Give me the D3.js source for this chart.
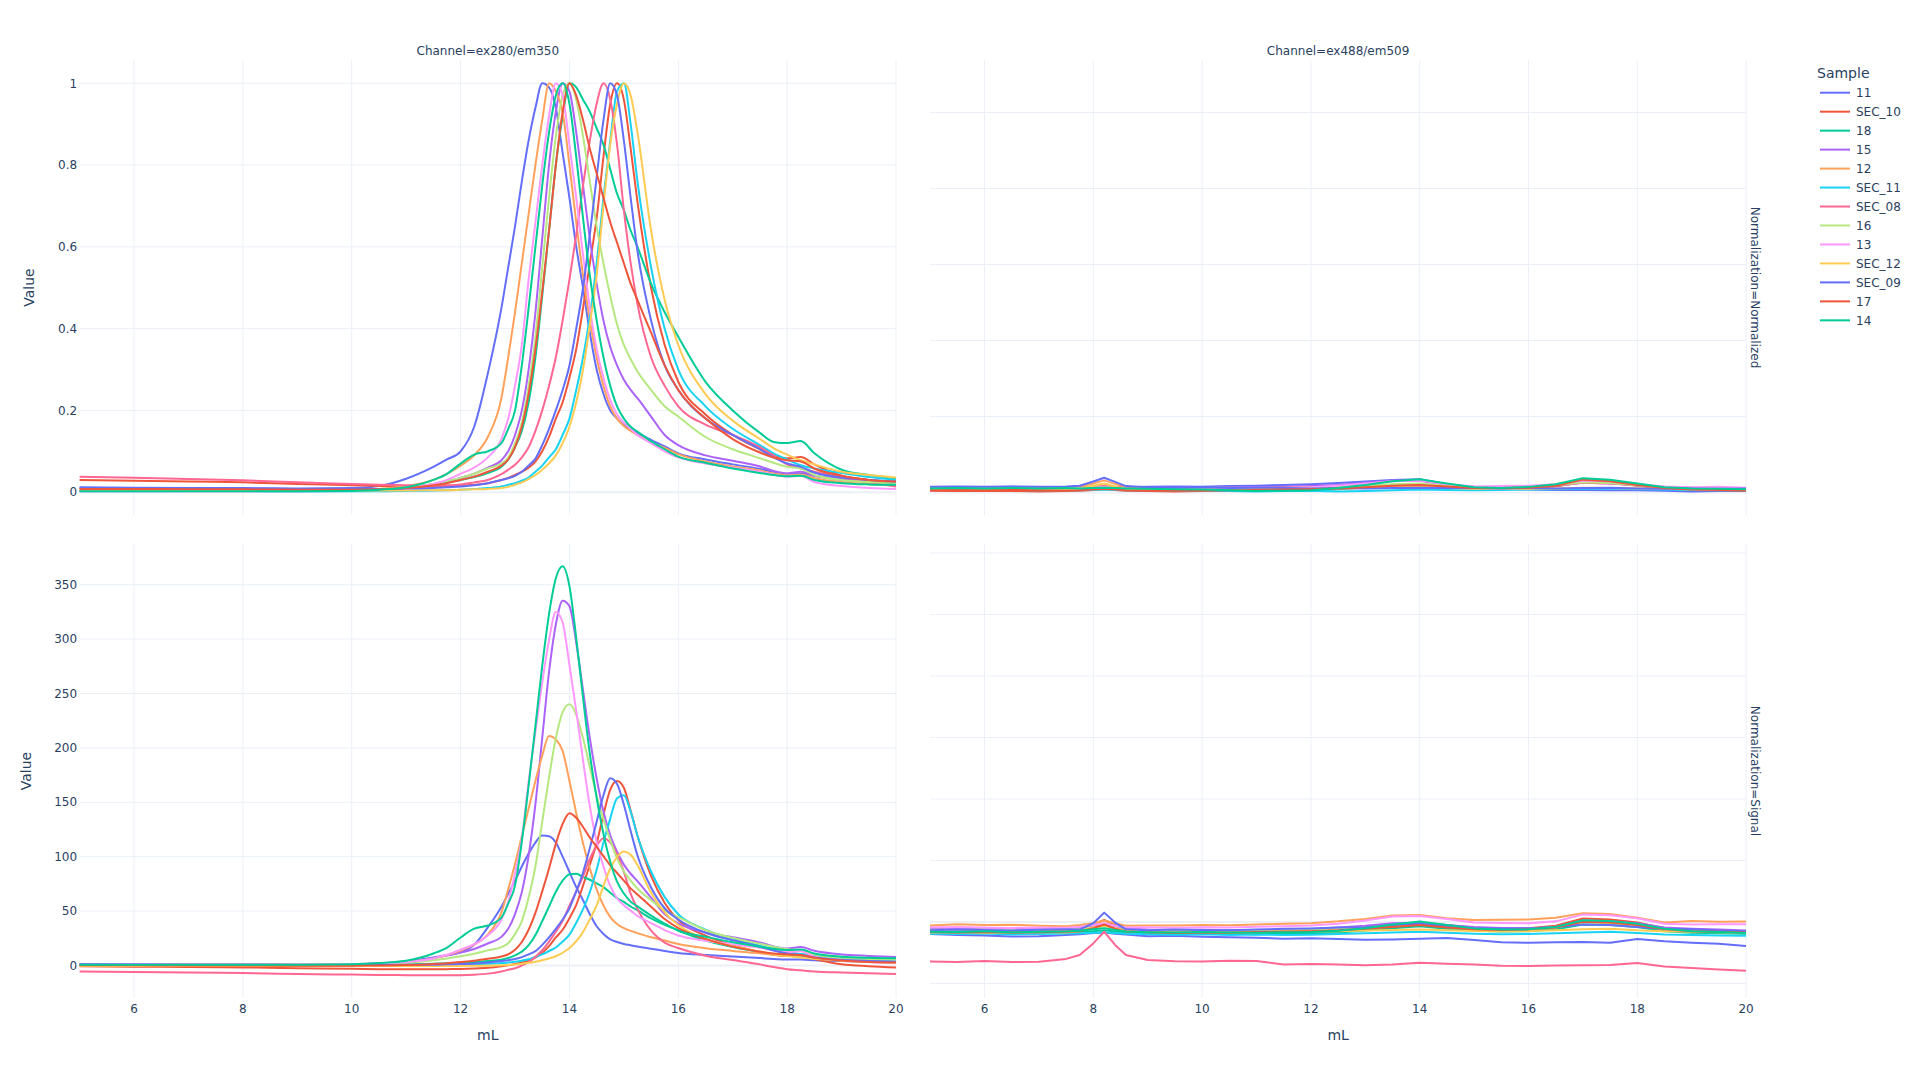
<!DOCTYPE html>
<html><head><meta charset="utf-8">
<script src="https://cdn.jsdelivr.net/npm/d3@7"></script>
<style>body{margin:0;background:#fff;} svg{display:block;font-family:"DejaVu Sans",Verdana,sans-serif;}</style>
</head><body><svg id="chart" width="1920" height="1080"></svg>
<script>
// ---------------- DATA ----------------
const samples = ["11","SEC_10","18","15","12","SEC_11","SEC_08","16","13","SEC_12","SEC_09","17","14"];
const sampleColors = ["#636efa","#EF553B","#00cc96","#ab63fa","#FFA15A","#19d3f3","#FF6692","#B6E880","#FF97FF","#FECB52","#636efa","#EF553B","#00cc96"];
const channels = ["ex280/em350","ex488/em509"];
const normalizations = ["Normalized","Signal"];

// elution volume grid for ex280/em350 traces (mL)
const mL280 = [5,6,7,8,9,10,10.5,11,11.5,11.75,12,12.25,12.5,12.75,12.875,13,13.125,13.25,13.375,13.5,13.625,13.75,13.875,14,14.125,14.25,14.375,14.5,14.625,14.75,14.875,15,15.125,15.25,15.5,15.75,16,16.5,17,17.5,17.75,18,18.25,18.5,19,19.5,20];
// elution volume grid for ex488/em509 traces (mL)
const mL488 = [5,5.5,6,6.5,7,7.5,7.75,8,8.2,8.4,8.6,9,9.5,10,10.5,11,11.5,12,12.5,13,13.5,14,14.5,15,15.5,16,16.5,17,17.5,18,18.5,19,19.5,20];

// ex280/em350, Normalized
const norm280_11     = [0.010,0.010,0.010,0.010,0.009,0.010,0.015,0.033,0.062,0.08,0.10,0.16,0.29,0.45,0.55,0.65,0.76,0.86,0.94,1.0,0.99,0.94,0.83,0.72,0.60,0.50,0.39,0.30,0.24,0.20,0.18,0.165,0.155,0.145,0.128,0.112,0.095,0.08,0.068,0.057,0.05,0.045,0.046,0.04,0.033,0.029,0.026];
const norm280_SEC_10 = [0.03,0.028,0.026,0.024,0.02,0.017,0.015,0.014,0.014,0.015,0.016,0.018,0.022,0.03,0.035,0.042,0.05,0.06,0.075,0.1,0.135,0.18,0.22,0.28,0.35,0.45,0.56,0.67,0.82,0.95,1.0,0.96,0.84,0.71,0.5,0.36,0.27,0.19,0.14,0.105,0.09,0.083,0.086,0.068,0.04,0.03,0.023];
const norm280_18     = [0.004,0.004,0.004,0.004,0.004,0.004,0.006,0.01,0.018,0.024,0.03,0.037,0.047,0.062,0.08,0.11,0.15,0.22,0.33,0.48,0.64,0.80,0.92,1.0,0.99,0.96,0.93,0.89,0.85,0.79,0.73,0.69,0.64,0.60,0.51,0.44,0.38,0.27,0.20,0.145,0.123,0.12,0.125,0.095,0.055,0.042,0.034];
const norm280_15     = [0.002,0.002,0.002,0.002,0.002,0.003,0.005,0.01,0.02,0.027,0.035,0.045,0.06,0.078,0.1,0.14,0.2,0.3,0.44,0.62,0.80,0.93,1.0,0.98,0.88,0.75,0.62,0.51,0.42,0.355,0.31,0.275,0.25,0.23,0.185,0.14,0.115,0.09,0.077,0.063,0.052,0.046,0.05,0.04,0.03,0.026,0.023];
const norm280_12     = [0.005,0.005,0.004,0.004,0.004,0.005,0.008,0.015,0.03,0.045,0.065,0.09,0.135,0.23,0.33,0.44,0.56,0.68,0.80,0.91,1.0,0.98,0.93,0.80,0.66,0.53,0.42,0.33,0.26,0.21,0.18,0.162,0.15,0.14,0.122,0.108,0.093,0.075,0.063,0.053,0.046,0.041,0.043,0.034,0.025,0.02,0.016];
const norm280_SEC_11 = [0.003,0.003,0.003,0.003,0.002,0.002,0.002,0.003,0.004,0.005,0.006,0.008,0.01,0.014,0.018,0.022,0.028,0.036,0.05,0.065,0.085,0.105,0.14,0.18,0.25,0.33,0.43,0.56,0.72,0.86,0.98,1.0,0.9,0.76,0.55,0.40,0.30,0.21,0.155,0.115,0.095,0.08,0.066,0.058,0.047,0.037,0.03];
const norm280_SEC_08 = [0.038,0.035,0.032,0.029,0.024,0.02,0.018,0.017,0.016,0.017,0.019,0.024,0.03,0.044,0.055,0.067,0.085,0.11,0.15,0.2,0.26,0.33,0.42,0.52,0.63,0.75,0.86,0.95,1.0,0.96,0.85,0.69,0.56,0.46,0.33,0.26,0.21,0.165,0.14,0.11,0.09,0.068,0.058,0.05,0.036,0.024,0.014];
const norm280_16     = [0.003,0.003,0.003,0.003,0.003,0.004,0.006,0.01,0.02,0.027,0.035,0.045,0.058,0.07,0.085,0.12,0.17,0.26,0.38,0.55,0.72,0.87,0.97,1.0,0.96,0.87,0.76,0.65,0.56,0.48,0.41,0.36,0.325,0.295,0.25,0.21,0.185,0.135,0.105,0.083,0.072,0.062,0.058,0.042,0.03,0.025,0.022];
const norm280_13     = [0.004,0.004,0.003,0.003,0.003,0.004,0.006,0.01,0.02,0.03,0.045,0.06,0.085,0.13,0.18,0.26,0.36,0.52,0.66,0.80,0.92,1.0,0.97,0.85,0.72,0.58,0.45,0.35,0.28,0.225,0.19,0.17,0.155,0.14,0.12,0.10,0.085,0.07,0.06,0.05,0.043,0.038,0.04,0.025,0.015,0.01,0.008];
const norm280_SEC_12 = [0.006,0.005,0.005,0.004,0.004,0.004,0.004,0.004,0.005,0.005,0.006,0.007,0.008,0.01,0.013,0.018,0.024,0.032,0.042,0.055,0.07,0.09,0.12,0.16,0.22,0.30,0.41,0.53,0.7,0.85,0.95,1.0,0.97,0.88,0.64,0.47,0.36,0.24,0.175,0.13,0.108,0.092,0.078,0.068,0.05,0.042,0.036];
const norm280_SEC_09 = [0.012,0.011,0.01,0.009,0.008,0.008,0.008,0.009,0.01,0.012,0.014,0.017,0.022,0.03,0.034,0.04,0.05,0.065,0.082,0.115,0.155,0.2,0.25,0.31,0.40,0.50,0.63,0.77,0.91,1.0,0.97,0.86,0.72,0.59,0.42,0.31,0.25,0.18,0.14,0.105,0.085,0.07,0.062,0.048,0.036,0.03,0.026];
const norm280_17     = [0.008,0.008,0.007,0.007,0.006,0.006,0.007,0.01,0.017,0.022,0.03,0.038,0.05,0.065,0.08,0.11,0.16,0.24,0.35,0.49,0.64,0.8,0.93,1.0,0.97,0.91,0.84,0.78,0.72,0.66,0.61,0.56,0.51,0.47,0.39,0.31,0.25,0.18,0.13,0.097,0.085,0.078,0.075,0.058,0.04,0.03,0.026];
const norm280_14     = [0.002,0.002,0.002,0.002,0.002,0.003,0.006,0.012,0.03,0.045,0.07,0.092,0.10,0.12,0.155,0.20,0.31,0.45,0.60,0.75,0.88,0.97,1.0,0.95,0.82,0.67,0.53,0.42,0.33,0.26,0.21,0.18,0.16,0.148,0.125,0.105,0.087,0.072,0.058,0.047,0.042,0.039,0.04,0.03,0.022,0.019,0.018];

// ex280/em350, Signal
const sig280_11     = [1.2,1.2,1.2,1.2,1.1,1.2,1.8,4,7.4,9.6,12,19,35,54,66,78,91,103,113,119.4,118.8,113,100,86,72,60,47,36,29,24,21.6,19.8,18.6,17.4,15.4,13.4,11.4,9.6,8.2,6.8,6,5.4,5.5,4.8,4,3.5,3.1];
const sig280_SEC_10 = [-0.7,-1.1,-1.4,-1.8,-2.5,-3,-3.4,-3.5,-3.5,-3.4,-3.2,-2.8,-2.1,-0.7,0.2,1.4,2.8,4.6,7.2,11.7,17.8,25.8,32.8,43.4,55.8,73.4,92.8,112.3,138.7,161.7,169.6,163.4,142.3,119.3,82.3,57.5,41.7,27.5,18.7,12.5,9.9,8.6,9.2,6,1.1,-0.7,-1.9];
const sig280_18     = [0.3,0.3,0.3,0.3,0.3,0.3,0.5,0.8,1.5,2,2.5,3.1,4,5.3,6.8,9.3,12.7,18.6,28,40.7,54.2,67.8,77.9,83.9,84.3,81.3,78.8,75.4,72,66.9,61.8,58.4,54.2,50.8,43.2,37.3,32.2,22.9,16.9,12.3,10.2,10.2,10.6,8,4.7,3.6,2.9];
const sig280_15     = [0.7,0.7,0.7,0.7,0.7,1,1.7,3.4,6.7,9.1,11.8,15.2,20.2,26.3,33.7,47.2,67.4,101,148.3,209,269.6,313.4,335.3,330.3,296.6,252.8,208.9,171.9,141.5,119.6,104.5,92.7,84.3,77.5,62.3,47.2,38.8,30.3,25.9,21.2,17.5,15.5,16.9,13.5,10.1,8.8,7.8];
const sig280_12     = [1.1,1.1,0.8,0.8,0.8,1.1,1.7,3.2,6.4,9.5,13.8,19.1,28.6,48.8,70,93.3,118.7,144.2,169.6,192.9,211,207.8,197.2,169.6,139.9,112.4,89,70,55.1,44.5,38.2,34.3,31.8,29.7,25.9,22.9,19.7,15.9,13.4,11.2,9.8,8.7,9.1,7.2,5.3,4.2,3.4];
const sig280_SEC_11 = [0.5,0.5,0.5,0.5,0.3,0.3,0.3,0.5,0.6,0.8,0.9,1.3,1.6,2.2,2.8,3.5,4.4,5.7,7.9,10.2,13.3,16.5,22,28.3,39.3,51.8,67.5,87.9,113,135,153.8,156.5,141.3,119.3,86.4,62.8,47.1,33,24.3,18.1,14.9,12.6,10.4,9.1,7.4,5.8,4.7];
const sig280_SEC_08 = [-5.5,-6,-6.5,-7,-7.8,-8.4,-8.7,-8.9,-9.1,-9.1,-9,-8.5,-7.5,-5.5,-4,-2.5,0,3,8,14,22,31,41,55,68,82,98,110,117,113,102,86,66,52,32,21,16,9,5,1,-1.5,-3.5,-4.5,-5.5,-6.5,-7.2,-7.8];
const sig280_16     = [0.7,0.7,0.7,0.7,0.7,1,1.4,2.4,4.8,6.5,8.4,10.8,13.9,16.8,20.4,28.8,40.8,62.4,91.2,132,172.8,208.8,232.8,240,230.4,208.8,182.4,156,134.4,115.2,98.4,86.4,78,70.8,60,50.4,44.4,32.4,25.2,19.9,17.3,14.9,13.9,10.1,7.2,6,5.3];
const sig280_13     = [1.3,1.3,1,1,1,1.3,2,3.3,6.5,9.8,14.6,19.5,27.6,42.3,58.5,84.5,117,169,214.5,260,299,325,315.3,276.3,234,188.5,146.3,113.8,91,73.1,61.8,55.3,50.4,45.5,39,32.5,27.6,22.8,19.5,16.3,14,12.4,13,8.1,4.9,3.3,2.6];
const sig280_SEC_12 = [-0.4,-0.5,-0.5,-0.6,-0.6,-0.6,-0.6,-0.6,-0.5,-0.5,-0.4,-0.3,-0.2,0.1,0.4,0.9,1.5,2.4,3.5,4.8,6.4,8.5,11.7,16,22.3,30.8,42.5,55.2,73.2,89.1,99.7,104.8,101.8,92.3,66.8,48.8,37.2,24.4,17.6,12.8,10.4,8.8,7.3,6.2,4.3,3.5,2.8];
const sig280_SEC_09 = [1.1,0.9,0.7,0.6,0.4,0.4,0.4,0.6,0.7,1.1,1.4,1.9,2.8,4.2,4.9,5.9,7.7,10.2,13.2,18.9,25.8,33.6,42.3,52.6,68.2,85.5,108,132.2,156.4,172,166.8,147.8,123.6,101.1,71.7,52.6,42.3,30.1,23.2,17.2,13.7,11.1,9.7,7.3,5.2,4.2,3.5];
const sig280_17     = [0.1,0.1,0,0,-0.2,-0.2,0,0.4,1.4,2.1,3.2,4.4,6.1,8.2,10.3,14.5,21.6,32.8,48.4,68.1,89.2,111.8,130.1,140,135.8,127.3,117.4,109,100.5,92.1,85,78,70.9,65.3,54,42.7,34.3,24.4,17.3,12.7,11,10,9.6,7.2,4.6,3.2,2.7];
const sig280_14     = [0.7,0.7,0.7,0.7,0.7,1.1,2.2,4.4,11,16.5,25.7,33.8,36.7,44,56.9,73.4,113.8,165.2,220.2,275.3,323,356,367,348.7,300.9,245.9,194.5,154.1,121.1,95.4,77.1,66.1,58.7,54.3,45.9,38.5,31.9,26.4,21.3,17.2,15.4,14.3,14.7,11,8.1,7,6.6];

// ex488/em509, Normalized
const norm488_11     = [0.014,0.013,0.014,0.015,0.014,0.013,0.014,0.015,0.016,0.015,0.014,0.015,0.016,0.0155,0.017,0.018,0.02,0.022,0.025,0.029,0.033,0.035,0.022,0.012,0.01,0.008,0.007,0.007,0.006,0.006,0.005,0.003,0.004,0.004];
const norm488_SEC_10 = [0.005,0.004,0.005,0.004,0.003,0.004,0.005,0.007,0.009,0.007,0.005,0.004,0.003,0.004,0.005,0.006,0.007,0.008,0.01,0.013,0.016,0.018,0.014,0.01,0.011,0.012,0.016,0.028,0.026,0.018,0.01,0.007,0.006,0.005];
const norm488_18     = [0.008,0.009,0.008,0.009,0.008,0.009,0.008,0.009,0.01,0.009,0.008,0.009,0.01,0.009,0.008,0.006,0.005,0.006,0.009,0.014,0.02,0.022,0.017,0.012,0.011,0.013,0.018,0.028,0.025,0.019,0.012,0.01,0.009,0.008];
const norm488_15     = [0.013,0.012,0.013,0.012,0.013,0.012,0.013,0.014,0.015,0.014,0.013,0.012,0.013,0.012,0.013,0.014,0.015,0.017,0.02,0.026,0.032,0.031,0.02,0.015,0.014,0.015,0.018,0.026,0.024,0.019,0.014,0.012,0.011,0.01];
const norm488_12     = [0.012,0.013,0.012,0.011,0.012,0.013,0.016,0.024,0.032,0.023,0.014,0.012,0.011,0.012,0.013,0.012,0.013,0.014,0.015,0.017,0.02,0.021,0.016,0.014,0.015,0.016,0.02,0.03,0.028,0.02,0.015,0.013,0.012,0.011];
const norm488_SEC_11 = [0.008,0.007,0.008,0.007,0.006,0.007,0.006,0.007,0.008,0.007,0.006,0.007,0.006,0.005,0.004,0.003,0.004,0.005,0.003,0.004,0.006,0.008,0.007,0.006,0.007,0.008,0.009,0.01,0.011,0.009,0.008,0.007,0.006,0.006];
const norm488_SEC_08 = [0.011,0.012,0.011,0.01,0.011,0.012,0.013,0.015,0.017,0.015,0.012,0.011,0.012,0.011,0.012,0.011,0.013,0.012,0.013,0.014,0.016,0.018,0.015,0.013,0.014,0.015,0.018,0.026,0.024,0.019,0.013,0.011,0.01,0.008];
const norm488_16     = [0.01,0.011,0.01,0.011,0.01,0.011,0.012,0.013,0.014,0.013,0.011,0.01,0.011,0.01,0.011,0.01,0.011,0.012,0.014,0.018,0.022,0.024,0.018,0.013,0.012,0.014,0.019,0.027,0.025,0.019,0.013,0.011,0.01,0.01];
const norm488_13     = [0.01,0.009,0.011,0.01,0.009,0.01,0.011,0.013,0.014,0.012,0.01,0.009,0.01,0.011,0.01,0.011,0.012,0.014,0.018,0.024,0.03,0.032,0.022,0.016,0.017,0.018,0.022,0.032,0.03,0.022,0.016,0.014,0.015,0.013];
const norm488_SEC_12 = [0.009,0.008,0.009,0.01,0.009,0.008,0.011,0.018,0.024,0.016,0.009,0.008,0.009,0.008,0.009,0.01,0.009,0.01,0.011,0.012,0.014,0.015,0.012,0.01,0.011,0.01,0.011,0.013,0.012,0.011,0.01,0.009,0.008,0.008];
const norm488_SEC_09 = [0.015,0.016,0.015,0.016,0.015,0.016,0.018,0.029,0.039,0.028,0.017,0.014,0.013,0.014,0.012,0.013,0.012,0.011,0.012,0.011,0.012,0.013,0.012,0.012,0.011,0.012,0.011,0.012,0.013,0.011,0.01,0.011,0.01,0.011];
const norm488_17     = [0.006,0.007,0.006,0.007,0.006,0.005,0.006,0.008,0.01,0.008,0.006,0.005,0.006,0.005,0.006,0.007,0.008,0.009,0.011,0.014,0.018,0.02,0.016,0.012,0.012,0.013,0.018,0.034,0.03,0.02,0.012,0.008,0.007,0.006];
const norm488_14     = [0.011,0.012,0.011,0.012,0.011,0.012,0.011,0.012,0.013,0.012,0.011,0.01,0.009,0.008,0.006,0.004,0.005,0.006,0.012,0.02,0.03,0.035,0.024,0.014,0.012,0.015,0.022,0.038,0.034,0.024,0.014,0.011,0.01,0.009];

// ex488/em509, Signal
const sig488_11     = [-9.8,-10.5,-11,-11.8,-11.5,-10.6,-10,-9,-8.5,-9.5,-10.2,-11.5,-11.2,-12,-12.4,-12.8,-13.6,-13.3,-13.9,-14.5,-14.2,-13.6,-13.1,-14.6,-16.5,-16.9,-16.4,-16.2,-16.8,-13.8,-15.6,-16.8,-17.6,-19.6];
const sig488_SEC_10 = [-7,-7.3,-6.8,-7.5,-7.1,-6.9,-5.5,-2,1.6,-2.5,-6.5,-7.2,-7.5,-7.8,-8,-7.4,-7,-6.5,-6,-5,-3,-1,-2.5,-4.8,-5.5,-5,-3,2.8,2,-0.5,-5,-6.8,-7.6,-8];
const sig488_18     = [-8.8,-9.1,-8.6,-9.2,-8.9,-8.6,-8.2,-7.5,-6.8,-7.8,-8.8,-9.1,-9.4,-9.1,-9.6,-9.9,-9.5,-9.2,-8.6,-7,-5,-3.5,-5.5,-7.2,-7.8,-7.5,-6,-2,-2.5,-4,-7.5,-8.8,-9.2,-9.5];
const sig488_15     = [-5.1,-5.5,-5.2,-5,-4.8,-4.6,-4.2,-3,-2.5,-3.5,-5,-6.2,-6.5,-6.4,-6.8,-6.5,-6.2,-5.8,-4.5,-3,-1,-0.8,-2.5,-4,-4.8,-5.2,-4,1.2,0.5,-1,-4.5,-5.5,-6.2,-7];
const sig488_12     = [-2.8,-1.9,-2.4,-2.2,-3,-3.5,-2.5,-1,1.2,-1,-3,-2.8,-2.9,-2.5,-2.7,-2,-1.5,-1,0.5,2.5,5.2,5.7,3,1.6,1.8,2.1,3.5,7.2,6.5,3.5,-0.5,0.8,0.2,0.3];
const sig488_SEC_11 = [-9.5,-9.8,-9.3,-10.1,-9.7,-9.4,-9.2,-8.8,-8.5,-9,-9.6,-10,-10.3,-10,-10.5,-10.2,-10.6,-10.3,-9.8,-9.2,-8.5,-8,-8.8,-9.6,-10,-9.7,-9.2,-8.5,-8,-9,-10.2,-10.6,-10.9,-11.2];
const sig488_SEC_08 = [-32.2,-32.5,-31.8,-32.6,-32.4,-30,-26.8,-17.4,-7.9,-18.7,-26.8,-30.9,-31.9,-32.2,-31.5,-31.8,-34.5,-34.1,-34.5,-35.2,-34.6,-33.1,-34,-34.5,-35.6,-35.8,-35.4,-35.2,-35,-33.3,-36.2,-37.4,-38.6,-39.6];
const sig488_16     = [-6.3,-6.6,-6.1,-6.8,-6.4,-6.2,-5.8,-4.5,-3.5,-5,-6.5,-7,-7.2,-6.9,-7.3,-7.1,-6.8,-6.4,-5.8,-4.5,-2.5,-1.8,-3.8,-5.6,-6.2,-5.8,-4.2,-0.5,-1,-2.5,-6,-7.2,-7.8,-8.2];
const sig488_13     = [-4.3,-4.1,-4.5,-4.8,-4.4,-4.6,-3.8,-2.5,-1,-3,-4.5,-4.3,-4.6,-4.2,-4.4,-3.8,-3.5,-2.8,-1.5,1.2,4.5,4.9,2.5,-0.5,-0.8,-1,0.5,6,5.5,3,-1.5,-2,-1.8,-1.9];
const sig488_SEC_12 = [-8.5,-8.2,-8.8,-8.4,-8.1,-8.6,-7.5,-4.5,-2.8,-5,-7.8,-8.2,-8.5,-8.1,-8.7,-8.4,-8,-7.8,-7.5,-7,-6.5,-6.2,-6.8,-7.4,-7.6,-7.3,-6.8,-6,-5.5,-6.8,-7.6,-8,-8.3,-8.8];
const sig488_SEC_09 = [-6.8,-6.2,-6.5,-6.9,-6.3,-6,-6.2,-1,7.6,-0.5,-6,-6.8,-6.2,-6.5,-6.8,-6.1,-5.6,-5.2,-4.5,-4.2,-2.5,-1.5,-3.5,-5,-5.5,-5.3,-4,-2,-2.5,-4,-5.5,-6,-7,-7.5];
const sig488_17     = [-8.2,-8.5,-8.1,-8.6,-8.3,-8,-7.5,-5,-2,-5.5,-7.8,-8.4,-8.9,-8.5,-8.7,-8.1,-7.8,-7.5,-6.8,-5.5,-4,-2.5,-4.5,-6,-6.5,-6,-4.5,0.2,-0.5,-2.5,-6,-7.5,-8,-8.5];
const sig488_14     = [-7.9,-8.2,-7.6,-8.4,-8,-7.7,-7.2,-6,-5,-6.5,-7.8,-8.3,-8.6,-8.2,-8.5,-8.8,-8.4,-8.1,-7.2,-5,-2,0.3,-2.5,-5.2,-6.2,-6,-4,1.4,0.8,-1.5,-5.5,-7.5,-8.2,-9];

// axis ticks
const xTicks = [6,8,10,12,14,16,18,20];
const yTicksNorm = [0,0.2,0.4,0.6,0.8,1];
const yTickLabelsNorm = ["0","0.2","0.4","0.6","0.8","1"];
const yTicksSig280 = [0,50,100,150,200,250,300,350];
const yTicksSig488 = [-50,0,50,100,150,200,250,300];

// ---------------- TABLES ----------------
const seriesTable = {
  "ex280/em350|Normalized": [norm280_11,norm280_SEC_10,norm280_18,norm280_15,norm280_12,norm280_SEC_11,norm280_SEC_08,norm280_16,norm280_13,norm280_SEC_12,norm280_SEC_09,norm280_17,norm280_14],
  "ex280/em350|Signal":     [sig280_11,sig280_SEC_10,sig280_18,sig280_15,sig280_12,sig280_SEC_11,sig280_SEC_08,sig280_16,sig280_13,sig280_SEC_12,sig280_SEC_09,sig280_17,sig280_14],
  "ex488/em509|Normalized": [norm488_11,norm488_SEC_10,norm488_18,norm488_15,norm488_12,norm488_SEC_11,norm488_SEC_08,norm488_16,norm488_13,norm488_SEC_12,norm488_SEC_09,norm488_17,norm488_14],
  "ex488/em509|Signal":     [sig488_11,sig488_SEC_10,sig488_18,sig488_15,sig488_12,sig488_SEC_11,sig488_SEC_08,sig488_16,sig488_13,sig488_SEC_12,sig488_SEC_09,sig488_17,sig488_14]
};

// ---------------- LAYOUT ----------------
const textColor = "#2a3f5f", gridColor = "#EBF0F8";
const colX = [[79.6, 896], [930.1, 1746.1]];
const rowY = [[60, 515], [544, 998]];
const panels = [
  {ch:0, nr:0, yDomain:[-0.0558,1.057], ticks:yTicksNorm, labels:yTickLabelsNorm, xg:mL280, curve:d3.curveMonotoneX},
  {ch:1, nr:0, yDomain:[-0.059,1.138], ticks:yTicksNorm, labels:null, xg:mL488, curve:d3.curveLinear},
  {ch:0, nr:1, yDomain:[-29.9,387.4], ticks:yTicksSig280, labels:yTicksSig280.map(String), xg:mL280, curve:d3.curveMonotoneX},
  {ch:1, nr:1, yDomain:[-61.8,307.3], ticks:yTicksSig488, labels:null, xg:mL488, curve:d3.curveLinear}
];

const svg = d3.select("#chart");
svg.append("rect").attr("width",1920).attr("height",1080).attr("fill","#fff");
const defs = svg.append("defs");

panels.forEach((p, pi) => {
  const [x0,x1] = colX[p.ch], [y0,y1] = rowY[p.nr];
  const x = d3.scaleLinear().domain([5,20]).range([x0,x1]);
  const y = d3.scaleLinear().domain(p.yDomain).range([y1,y0]);
  const g = svg.append("g");
  defs.append("clipPath").attr("id","clip"+pi).append("rect")
    .attr("x",x0).attr("y",y0).attr("width",x1-x0).attr("height",y1-y0);

  g.selectAll(null).data(xTicks).join("line")
    .attr("x1",d=>x(d)).attr("x2",d=>x(d)).attr("y1",y0).attr("y2",y1)
    .attr("stroke",gridColor).attr("stroke-width",1);
  g.selectAll(null).data(p.ticks.filter(t=>t!==0)).join("line")
    .attr("x1",x0).attr("x2",x1).attr("y1",d=>y(d)).attr("y2",d=>y(d))
    .attr("stroke",gridColor).attr("stroke-width",1);
  g.append("line").attr("x1",x0).attr("x2",x1).attr("y1",y(0)).attr("y2",y(0))
    .attr("stroke",gridColor).attr("stroke-width",2);

  if (p.labels) {
    g.selectAll(null).data(p.ticks).join("text")
      .attr("x",x0-2.5).attr("y",d=>y(d)).attr("dy","0.35em")
      .attr("text-anchor","end").attr("font-size",12).attr("fill",textColor)
      .text((d,i)=>p.labels[i]);
  }
  if (p.nr === 1) {
    g.selectAll(null).data(xTicks).join("text")
      .attr("x",d=>x(d)).attr("y",1009).attr("dy","0.35em")
      .attr("text-anchor","middle").attr("font-size",12).attr("fill",textColor)
      .text(d=>d);
    g.append("text").attr("x",(x0+x1)/2).attr("y",1035.5).attr("dy","0.35em")
      .attr("text-anchor","middle").attr("font-size",14).attr("fill",textColor).text("mL");
  }

  const key = channels[p.ch] + "|" + normalizations[p.nr];
  const arrs = seriesTable[key];
  const line = d3.line().x(d=>x(d[0])).y(d=>y(d[1])).curve(p.curve)
    .defined(d=>d[1]!=null && !isNaN(d[1]));
  const tg = g.append("g").attr("clip-path","url(#clip"+pi+")");
  arrs.forEach((vals, si) => {
    const pts = p.xg.map((m,i)=>[m, vals[i]]);
    tg.append("path").attr("d", line(pts)).attr("fill","none")
      .attr("stroke", sampleColors[si]).attr("stroke-width",2)
      .attr("stroke-linejoin","round").attr("stroke-linecap","round");
  });
});

svg.append("text").attr("transform","translate(29,287.5) rotate(-90)").attr("dy","0.35em")
  .attr("text-anchor","middle").attr("font-size",14).attr("fill",textColor).text("Value");
svg.append("text").attr("transform","translate(26,771) rotate(-90)").attr("dy","0.35em")
  .attr("text-anchor","middle").attr("font-size",14).attr("fill",textColor).text("Value");

channels.forEach((c, i) => {
  svg.append("text").attr("x",(colX[i][0]+colX[i][1])/2).attr("y",50.7).attr("dy","0.35em")
    .attr("text-anchor","middle").attr("font-size",12).attr("fill",textColor).text("Channel=" + c);
});
normalizations.forEach((n, i) => {
  const cy = (rowY[i][0]+rowY[i][1])/2;
  svg.append("text").attr("transform",`translate(1755.5,${cy}) rotate(90)`).attr("dy","0.35em")
    .attr("text-anchor","middle").attr("font-size",12).attr("fill",textColor).text("Normalization=" + n);
});

const lg = svg.append("g");
lg.append("text").attr("x",1817).attr("y",73.3).attr("dy","0.35em")
  .attr("font-size",14).attr("fill",textColor).text("Sample");
samples.forEach((s, i) => {
  const yy = 92.7 + i*18.97;
  lg.append("line").attr("x1",1820).attr("x2",1850).attr("y1",yy).attr("y2",yy)
    .attr("stroke",sampleColors[i]).attr("stroke-width",2);
  lg.append("text").attr("x",1856).attr("y",yy).attr("dy","0.35em")
    .attr("font-size",12).attr("fill",textColor).text(s);
});
</script>
</body></html>
